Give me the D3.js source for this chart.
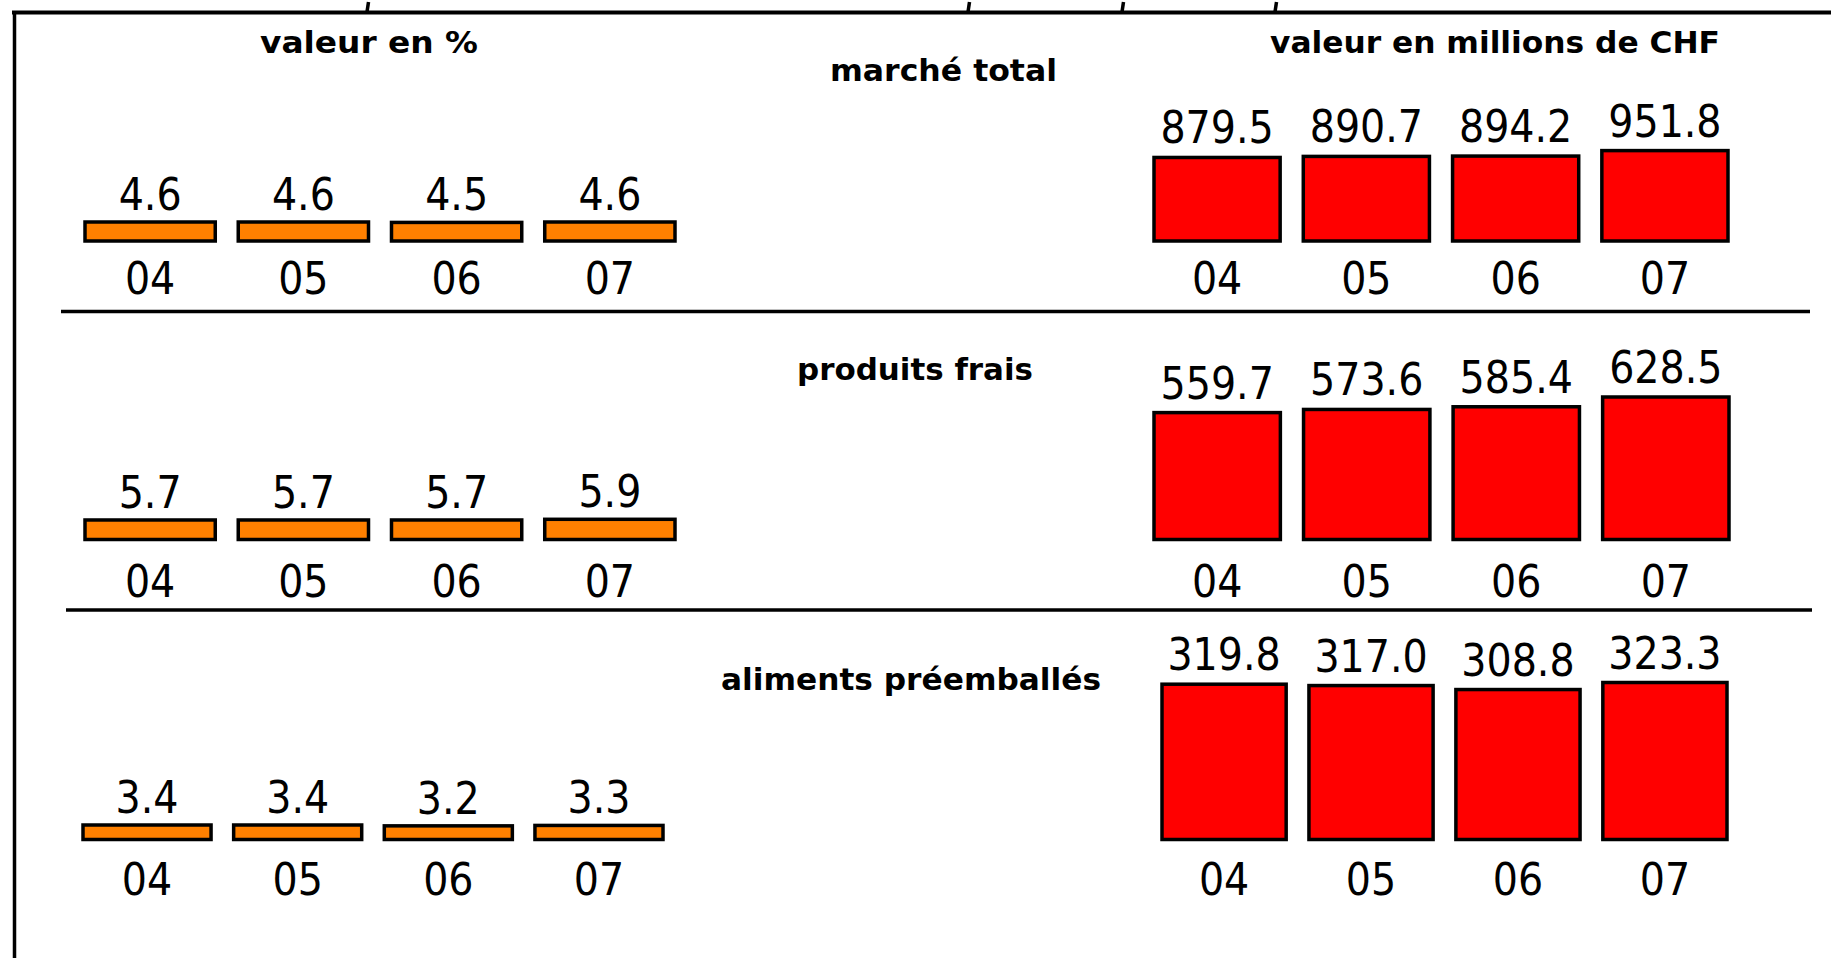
<!DOCTYPE html>
<html>
<head>
<meta charset="utf-8">
<script src="https://cdn.jsdelivr.net/npm/d3@7"></script>
<style>
  html, body { margin: 0; padding: 0; background: #fff; }
  svg { display: block; }
  .num { font-family: "DejaVu Sans Condensed", "DejaVu Sans", sans-serif; font-stretch: condensed; font-size: 44px; fill: #000; }
  .ttl { font-family: "DejaVu Sans Condensed", "DejaVu Sans", sans-serif; font-stretch: condensed; font-weight: bold; font-size: 31px; fill: #000; }
</style>
</head>
<body>
<svg id="chart" width="1831" height="958"></svg>
<script>
// data
const years = ["04", "05", "06", "07"];
const segments = ["marché total", "produits frais", "aliments préemballés"];
const sharePct = [
  [4.6, 4.6, 4.5, 4.6],
  [5.7, 5.7, 5.7, 5.9],
  [3.4, 3.4, 3.2, 3.3]
];
const valueMioCHF = [
  [879.5, 890.7, 894.2, 951.8],
  [559.7, 573.6, 585.4, 628.5],
  [319.8, 317.0, 308.8, 323.3]
];
const leftHeading = "valeur en %";
const rightHeading = "valeur en millions de CHF";

// layout, one entry per row
const rows = [
  { base: 241, yearY: 294, left: [85, 675], right: [1154, 1728], pctH: 19, pctMax: 4.6, mioH: 90.4, mioMax: 951.8, titleX: 943.5, titleY: 81, titleW: 227 },
  { base: 539.5, yearY: 597, left: [85, 675], right: [1154, 1729], pctH: 20.2, pctMax: 5.9, mioH: 142.5, mioMax: 628.5, titleX: 915, titleY: 380, titleW: 236 },
  { base: 839.5, yearY: 895, left: [83, 663], right: [1162, 1727], pctH: 14.5, pctMax: 3.4, mioH: 157, mioMax: 323.3, titleX: 911, titleY: 690, titleW: 380 }
];

const svg = d3.select("#chart");
const fmt = d3.format(".1f");

// frame
svg.append("line").attr("x1", 12).attr("x2", 1831).attr("y1", 12.5).attr("y2", 12.5)
  .attr("stroke", "#000").attr("stroke-width", 4);
svg.append("line").attr("x1", 14.5).attr("x2", 14.5).attr("y1", 11).attr("y2", 958)
  .attr("stroke", "#000").attr("stroke-width", 3.5);
// bits of the cut-off figure above
[367, 968, 1122, 1275].forEach(function(x) {
  svg.append("line").attr("x1", x).attr("x2", x + 1.5).attr("y1", 12).attr("y2", 2)
    .attr("stroke", "#000").attr("stroke-width", 3.5);
});

// row separators
[[61, 1810, 311.5], [66, 1812, 610]].forEach(function(s) {
  svg.append("line").attr("x1", s[0]).attr("x2", s[1]).attr("y1", s[2]).attr("y2", s[2])
    .attr("stroke", "#000").attr("stroke-width", 3.5);
});

// headings
svg.append("text").attr("class", "ttl").attr("x", 369).attr("y", 53)
  .attr("text-anchor", "middle").attr("textLength", 218).attr("lengthAdjust", "spacingAndGlyphs")
  .text(leftHeading);
svg.append("text").attr("class", "ttl").attr("x", 1495).attr("y", 53)
  .attr("text-anchor", "middle").attr("textLength", 450).attr("lengthAdjust", "spacingAndGlyphs")
  .text(rightHeading);

rows.forEach(function(r, i) {
  var g = svg.append("g");

  // segment title
  g.append("text").attr("class", "ttl").attr("x", r.titleX).attr("y", r.titleY)
    .attr("text-anchor", "middle").attr("textLength", r.titleW).attr("lengthAdjust", "spacingAndGlyphs")
    .text(segments[i]);

  var xl = d3.scaleBand().domain(years).range(r.left).paddingInner(0.15).paddingOuter(0);
  var xr = d3.scaleBand().domain(years).range(r.right).paddingInner(0.155).paddingOuter(0);
  var yl = d3.scaleLinear().domain([0, r.pctMax]).range([r.base, r.base - r.pctH]);
  var yr = d3.scaleLinear().domain([0, r.mioMax]).range([r.base, r.base - r.mioH]);

  var pct = years.map(function(y, j) { return { year: y, v: sharePct[i][j] }; });
  var mio = years.map(function(y, j) { return { year: y, v: valueMioCHF[i][j] }; });

  // left: share in %
  g.selectAll("rect.pct").data(pct).enter().append("rect").attr("class", "pct")
    .attr("x", function(d) { return xl(d.year); })
    .attr("width", xl.bandwidth())
    .attr("y", function(d) { return yl(d.v); })
    .attr("height", function(d) { return r.base - yl(d.v); })
    .attr("fill", "#ff8000").attr("stroke", "#000").attr("stroke-width", 3.5);

  g.selectAll("text.pctv").data(pct).enter().append("text").attr("class", "num pctv")
    .attr("x", function(d) { return xl(d.year) + xl.bandwidth() / 2; })
    .attr("y", function(d) { return yl(d.v) - 12; })
    .attr("text-anchor", "middle")
    .text(function(d) { return fmt(d.v); });

  g.selectAll("text.pcty").data(pct).enter().append("text").attr("class", "num pcty")
    .attr("x", function(d) { return xl(d.year) + xl.bandwidth() / 2; })
    .attr("y", r.yearY)
    .attr("text-anchor", "middle")
    .text(function(d) { return d.year; });

  // right: value in millions CHF
  g.selectAll("rect.mio").data(mio).enter().append("rect").attr("class", "mio")
    .attr("x", function(d) { return xr(d.year); })
    .attr("width", xr.bandwidth())
    .attr("y", function(d) { return yr(d.v); })
    .attr("height", function(d) { return r.base - yr(d.v); })
    .attr("fill", "#ff0000").attr("stroke", "#000").attr("stroke-width", 3.5);

  g.selectAll("text.miov").data(mio).enter().append("text").attr("class", "num miov")
    .attr("x", function(d) { return xr(d.year) + xr.bandwidth() / 2; })
    .attr("y", function(d) { return yr(d.v) - 14; })
    .attr("text-anchor", "middle")
    .text(function(d) { return fmt(d.v); });

  g.selectAll("text.mioy").data(mio).enter().append("text").attr("class", "num mioy")
    .attr("x", function(d) { return xr(d.year) + xr.bandwidth() / 2; })
    .attr("y", r.yearY)
    .attr("text-anchor", "middle")
    .text(function(d) { return d.year; });
});
</script>
</body>
</html>
